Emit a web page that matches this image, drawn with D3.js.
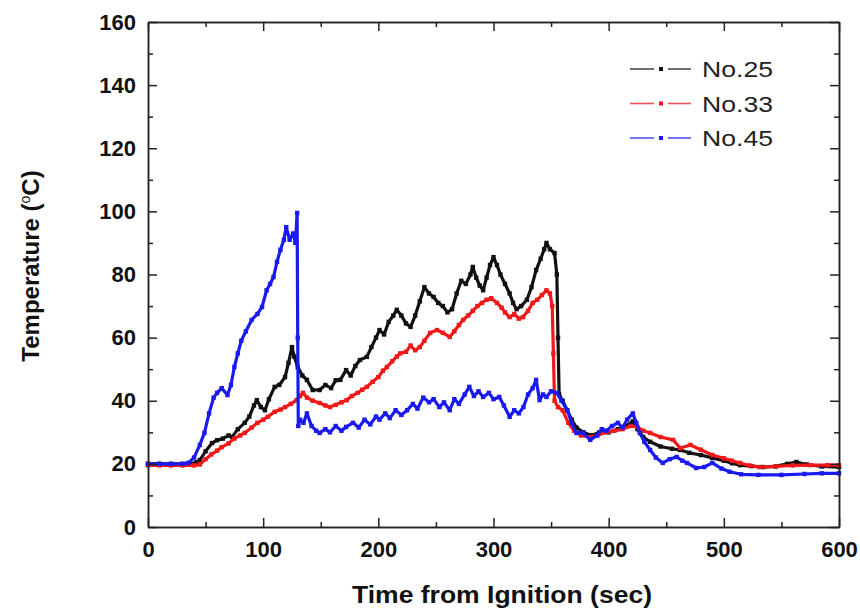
<!DOCTYPE html>
<html>
<head>
<meta charset="utf-8">
<script src="https://cdn.jsdelivr.net/npm/d3@7"></script>
<style>
  html, body { margin: 0; padding: 0; background: #fff; }
  svg { display: block; font-family: "Liberation Sans", Arial, sans-serif; }
</style>
</head>
<body>
<div id="chart"></div>
<script>
// Values: [time (sec), temperature (°C)]
const no25 = [
  [0,20],[10,20],[20,20],[30,20],[38,20],[42,20.5],[45,21.2],[50,24],[55.6,26.6],[60,27.5],[65,28],[70,29],[73,28.5],
  [78,31],[84,33],[88,35],[92,38.5],[94.5,40.2],[98,38],[101.5,37],[105,40.5],[110,44.4],[114,45],[119,47.5],[122,52],
  [125,57],[127,54],[130,50.7],[134,48],[138,46.6],[143,43.4],[149,43.4],[154,45],[159,44],[163,46.5],[167,46.6],
  [172,49.7],[176,48],[180,51],[184,52.9],[190,53.9],[194,57],[198,60],[201,62.4],[205,61],[209,65],[213,67],[216,68.8],
  [220,67],[224,64.5],[228,63.4],[232,67],[236,71.5],[240,76],[244,74],[248,72.9],[252,71],[256,70],[260,68],[264,69],
  [268,74],[272,78],[276,77],[280,80],[282,82.4],[285,79],[288,76.5],[291,75],[294,79],[297,83],[300,85.5],[303,83],
  [306,80],[310,77],[314,74],[317,71],[320,69],[324,70],[329,72],[333,76],[337,81.4],[341,85],[344,88],[346,90],
  [349,88],[353,86.8],[355,80],[356,60],[357,42],[360,40],[364,37],[368,34],[372,31.5],[378,30],[385,29],[392,30],
  [400,30],[408,31],[415,32],[421,33.5],[425,31],[430,28.5],[436,27],[445,25.5],[455,24.8],[462,24.4],[470,23.5],
  [480,22.8],[490,21.9],[500,21],[507,20.2],[514,19.6],[524,19.3],[534,19],[545,19.2],[555,20],[563,20.6],[572,19.8],
  [585,19.2],[600,19]
];
const no33 = [
  [0,19.5],[10,19.5],[20,19.5],[30,19.5],[40,19.5],[45,19.8],[50,21.5],[55,23],[60,24.2],[64,25.3],[70,26.5],[75,28],
  [80,29],[84,29.8],[90,31.5],[95,33],[100,34],[104,34.9],[110,36.5],[115,37.2],[119,38],[124,39],[129,40.2],[132,41.5],
  [134.6,42.5],[138,41],[143,40],[149,39.3],[154,38.5],[158,38],[163,38.7],[168,39.5],[172.5,40.2],[177,41.5],[182,42.5],
  [186,43.5],[190,44.4],[195,46],[200,47.5],[204,49.5],[207.5,50.7],[212,52.5],[216,54],[219,55],[224,55.5],[228,57.5],
  [232,56],[236,57],[240,59],[245,61.5],[251,62.4],[256,61.5],[262,60.2],[266,62],[270,64],[273.6,65.6],[278,67],
  [282,68.5],[286,70],[290,71],[294,72],[298,72.5],[303,71],[307,69.5],[310,68],[314,66.5],[318,67.5],[322,66],
  [325.6,66.5],[330,68.5],[334,71],[338,72],[342,73.5],[346,75],[349,74],[351,70],[352,55],[353,40],[356,38],[360,37],
  [365,33],[370,30.5],[376,29],[383,28.5],[390,29],[398,30],[405,30.5],[412,31],[419,32],[425,31.7],[430,30.5],
  [436,29.8],[445,28.5],[456,27.6],[462,25],[471,26],[480,24.5],[490,22.8],[500,21.8],[507,21],[514,20.3],[522,19.5],
  [531,19],[545,19.2],[560,19.5],[575,19.6],[590,19.6],[600,19.6]
];
const no45 = [
  [0,20],[10,20],[20,20],[30,20],[35,20.3],[40,22],[45,26],[49,29.8],[53,36],[57,41],[60,42.5],[64,44],[69,41.8],
  [72,45],[75,50.7],[78,55],[81,59],[85,62],[90,65.6],[95,67.5],[99,69.7],[103,75],[106,77],[109,79.2],[112,84],
  [115,87.8],[118,91],[120,95],[123,91],[126,93],[128,90],[129.5,99.5],[130,60],[130.5,32],[132,34],[135,33],[138,36],
  [142,32],[146,30.5],[149,29.8],[154,31],[158,30],[163,32],[168,30.5],[172,31.7],[178,33],[183,31.5],[188,34],
  [193,32.5],[198,35],[201,34],[206,36],[210,34.5],[215,37],[220,35.5],[225,37],[230,39],[234,37.5],[239,41],
  [244,39.5],[248,40.5],[253,38],[257,39.5],[262,37],[266,40.5],[270,39],[275,42],[279,44.4],[283,41.5],[287,43],
  [291,41.2],[296,42.5],[300,40.5],[305,41.2],[309,38.5],[314,34.9],[318,37],[322,36],[326,38],[330,42],[334,44],
  [337,46.6],[340,40.2],[343,42],[346,41.2],[350,43],[355,42.5],[359,40],[364,37],[368,33],[372,29.8],[378,29.8],
  [384,27.6],[390,29],[394,31],[398,30.5],[403,32],[408,33],[412,31.5],[416,34],[421,36],[424,33],[427,29.8],
  [431,27],[436,24.4],[441,22],[447,20.3],[453,21.5],[459,22.2],[464,21],[468,20.3],[476,18.7],[483,19],[490,20.3],
  [498,18.5],[505,17.5],[515,16.7],[530,16.5],[550,16.5],[570,16.8],[585,17],[600,17]
];

const seriesNames = ['No.25', 'No.33', 'No.45'];
const seriesData = [no25, no33, no45];
const seriesColors = ['#111111', '#f01818', '#1a1af0'];

const xMajor = [0, 100, 200, 300, 400, 500, 600];
const xMinor = [50, 150, 250, 350, 450, 550];
const yMajor = [0, 20, 40, 60, 80, 100, 120, 140, 160];
const yMinor = [10, 30, 50, 70, 90, 110, 130, 150];

const W = 860, H = 612;
const MARGIN = { top: 22, right: 21, bottom: 85, left: 148 };
const width = W - MARGIN.left - MARGIN.right;
const height = H - MARGIN.top - MARGIN.bottom;

const svg = d3.select('#chart').append('svg')
  .attr('width', W).attr('height', H);

const g = svg.append('g')
  .attr('transform', `translate(${MARGIN.left},${MARGIN.top})`);

const x = d3.scaleLinear().domain([0, 600]).range([0, width]);
const y = d3.scaleLinear().domain([0, 160]).range([height, 0]);

// Data lines + markers
const line = d3.line().x(d => x(d[0])).y(d => y(d[1]));
seriesData.forEach((data, i) => {
  const color = seriesColors[i];
  g.append('path')
    .datum(data)
    .attr('d', line)
    .attr('fill', 'none')
    .attr('stroke', color)
    .attr('stroke-width', 3.2)
    .attr('stroke-linejoin', 'round');
  g.selectAll(null)
    .data(data)
    .enter()
    .append('rect')
    .attr('x', d => x(d[0]) - 2.2)
    .attr('y', d => y(d[1]) - 2.2)
    .attr('width', 4.4).attr('height', 4.4)
    .attr('fill', color);
});

// Axes (ticks point inward on all four sides)
function styleAxis(sel) {
  sel.selectAll('path, line').attr('stroke', '#222').attr('stroke-width', 1.5);
  sel.selectAll('text')
    .attr('fill', '#111')
    .style('font-size', '22px')
    .style('font-weight', 'bold');
}

g.append('g')
  .attr('transform', `translate(0,${height})`)
  .call(d3.axisBottom(x).tickValues(xMajor).tickSizeInner(-9).tickSizeOuter(0).tickPadding(14).tickFormat(d3.format('d')))
  .call(styleAxis);
g.append('g')
  .attr('transform', `translate(0,${height})`)
  .call(d3.axisBottom(x).tickValues(xMinor).tickSizeInner(-5).tickSizeOuter(0).tickFormat(''))
  .call(styleAxis);

g.append('g')
  .call(d3.axisLeft(y).tickValues(yMajor).tickSizeInner(-9).tickSizeOuter(0).tickPadding(12).tickFormat(d3.format('d')))
  .call(styleAxis);
g.append('g')
  .call(d3.axisLeft(y).tickValues(yMinor).tickSizeInner(-5).tickSizeOuter(0).tickFormat(''))
  .call(styleAxis);

g.append('g')
  .call(d3.axisTop(x).tickValues(xMajor).tickSizeInner(-9).tickSizeOuter(0).tickFormat(''))
  .call(styleAxis);
g.append('g')
  .call(d3.axisTop(x).tickValues(xMinor).tickSizeInner(-5).tickSizeOuter(0).tickFormat(''))
  .call(styleAxis);

g.append('g')
  .attr('transform', `translate(${width},0)`)
  .call(d3.axisRight(y).tickValues(yMajor).tickSizeInner(-9).tickSizeOuter(0).tickFormat(''))
  .call(styleAxis);
g.append('g')
  .attr('transform', `translate(${width},0)`)
  .call(d3.axisRight(y).tickValues(yMinor).tickSizeInner(-5).tickSizeOuter(0).tickFormat(''))
  .call(styleAxis);

// Axis titles
svg.append('text')
  .attr('x', 352)
  .attr('y', 603)
  .attr('textLength', 300)
  .attr('lengthAdjust', 'spacingAndGlyphs')
  .attr('fill', '#111')
  .style('font-size', '24px')
  .style('font-weight', 'bold')
  .text('Time from Ignition (sec)');

const yTitle = svg.append('text')
  .attr('transform', 'translate(39,266) rotate(-90)')
  .attr('text-anchor', 'middle')
  .attr('fill', '#111')
  .style('font-size', '24px')
  .style('font-weight', 'bold');
yTitle.append('tspan').text('Temperature  (');
yTitle.append('tspan').attr('dy', -9).style('font-size', '14px').style('font-weight', 'normal').text('o');
yTitle.append('tspan').attr('dy', 9).text('C)');

// Legend
const legend = svg.append('g');
seriesNames.forEach((name, i) => {
  const ly = 69 + i * 34.5;
  const color = seriesColors[i];
  legend.append('line')
    .attr('x1', 630).attr('x2', 654).attr('y1', ly).attr('y2', ly)
    .attr('stroke', color).attr('stroke-width', 1.6).attr('opacity', 0.75);
  legend.append('line')
    .attr('x1', 668).attr('x2', 691).attr('y1', ly).attr('y2', ly)
    .attr('stroke', color).attr('stroke-width', 1.6).attr('opacity', 0.75);
  legend.append('rect')
    .attr('x', 659).attr('y', ly - 2).attr('width', 4).attr('height', 4)
    .attr('fill', color);
  legend.append('text')
    .attr('x', 702).attr('y', ly + 8)
    .attr('textLength', 71)
    .attr('lengthAdjust', 'spacingAndGlyphs')
    .attr('fill', '#222')
    .style('font-size', '22px')
    .text(name);
});
</script>
</body>
</html>
